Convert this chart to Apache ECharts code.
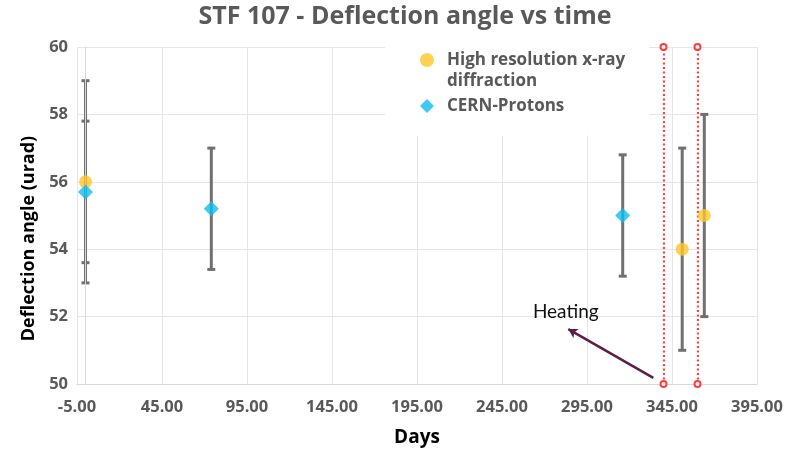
<!DOCTYPE html>
<html>
<head>
<meta charset="utf-8">
<script src="https://cdn.jsdelivr.net/npm/echarts@6/dist/echarts.min.js"></script>
<style>html,body{margin:0;padding:0;background:#fff;}#c{width:789px;height:452px;}</style>
</head>
<body>
<div id="c"></div>
<script>
// ---- data ----
const titleText = 'STF 107 - Deflection angle vs time';
const xTickValues = [-5, 45, 95, 145, 195, 245, 295, 345, 395];
const yTickValues = [50, 52, 54, 56, 58, 60];
const xrayName = 'High resolution x-ray diffraction';
const xrayDays = [0, 351, 364];
const xrayAngle = [56, 54, 55];
const xrayErrLow = [53, 51, 52];
const xrayErrHigh = [59, 57, 58];
const protonName = 'CERN-Protons';
const protonDays = [0, 74, 316];
const protonAngle = [55.7, 55.2, 55.0];
const protonErrLow = [53.6, 53.4, 53.2];
const protonErrHigh = [57.8, 57.0, 56.8];
const heatingDays = [340, 360];
const heatingLabel = 'Heating';
const heatingArrowFrom = [334, 50.18];
const heatingArrowTo = [284, 51.63];
const heatingTextAt = [282.5, 52.15];

const FONT = '"Open Sans", Lato, sans-serif';
const chart = echarts.init(document.getElementById('c'));

function errData(days, lo, hi) { return days.map((d, i) => [d, lo[i], hi[i]]); }
function errRender(params, api) {
  const x = api.value(0);
  const a = api.coord([x, api.value(1)]);
  const b = api.coord([x, api.value(2)]);
  const style = { stroke: '#707070', lineWidth: 3 };
  return {
    type: 'group',
    children: [
      { type: 'line', shape: { x1: a[0], y1: a[1], x2: b[0], y2: b[1] }, style },
      { type: 'line', shape: { x1: a[0] - 4, y1: a[1], x2: a[0] + 4, y2: a[1] }, style },
      { type: 'line', shape: { x1: b[0] - 4, y1: b[1], x2: b[0] + 4, y2: b[1] }, style }
    ]
  };
}

chart.setOption({
  animation: false,
  backgroundColor: '#fff',
  graphic: [{
    type: 'text', x: 405, y: 17, z: 10,
    style: { text: titleText, textAlign: 'center', textVerticalAlign: 'middle',
      fontFamily: FONT, fontWeight: 'bold', fontSize: 25, fill: '#595959' }
  }],
  legend: {
    orient: 'vertical',
    left: 385, top: 8,
    padding: [20.5, 24, 19, 35],
    backgroundColor: '#fff',
    itemWidth: 14, itemHeight: 14, itemGap: 4,
    data: [xrayName, protonName],
    formatter: n => n === xrayName ? '\nHigh resolution x-ray\ndiffraction' : n,
    textStyle: { fontFamily: FONT, fontWeight: 'bold', fontSize: 17, color: '#595959', lineHeight: 21,
      padding: [0, 0, 0, 8] }
  },
  grid: { left: 77, right: 32, top: 47, bottom: 68 },
  xAxis: {
    type: 'value', min: -5, max: 395,
    name: 'Days', nameLocation: 'middle', nameGap: 44,
    nameTextStyle: { fontFamily: FONT, fontWeight: 'bold', fontSize: 19, color: '#000' },
    axisLine: { show: true, lineStyle: { color: '#d9d9d9', width: 1 } },
    axisTick: { show: false, customValues: xTickValues },
    axisLabel: { customValues: xTickValues, formatter: v => v.toFixed(2), margin: 15,
      fontFamily: FONT, fontWeight: 'bold', fontSize: 16.5, color: '#595959' },
    splitLine: { show: true, lineStyle: { color: '#e6e6e6', width: 1 } }
  },
  yAxis: {
    type: 'value', min: 50, max: 60, interval: 2,
    name: 'Deflection angle (urad)', nameLocation: 'middle', nameGap: 30,
    nameTextStyle: { fontFamily: FONT, fontWeight: 'bold', fontSize: 18, color: '#000',
      padding: [0, 46, 0, 0] },
    axisLine: { show: true, lineStyle: { color: '#d9d9d9', width: 1 } },
    axisTick: { show: false },
    axisLabel: { margin: 9, fontFamily: FONT, fontWeight: 'bold', fontSize: 16.5, color: '#595959',
      formatter: v => yTickValues.includes(v) ? String(v) : '' },
    splitLine: { show: true, lineStyle: { color: '#e6e6e6', width: 1 } }
  },
  series: [
    {
      type: 'custom', name: 'xray-err', renderItem: errRender, z: 2,
      data: errData(xrayDays, xrayErrLow, xrayErrHigh), encode: { x: 0, y: [1, 2] },
      markLine: {
        silent: true, symbol: 'none', label: { show: false },
        lineStyle: { color: '#d9d9d9', type: 'solid', width: 1 },
        data: [{ xAxis: 0 }]
      }
    },
    {
      type: 'custom', name: 'proton-err', renderItem: errRender, z: 2,
      data: errData(protonDays, protonErrLow, protonErrHigh), encode: { x: 0, y: [1, 2] }
    },
    {
      type: 'scatter', name: xrayName, symbol: 'circle', symbolSize: 13, z: 5,
      itemStyle: { color: '#FFC52B' },
      data: xrayDays.map((d, i) => [d, xrayAngle[i]]),
      markLine: {
        silent: true, symbol: ['emptyCircle', 'emptyCircle'], symbolSize: 6,
        label: { show: false },
        lineStyle: { color: '#FF2A2A', type: [2, 2.5], width: 2.2, opacity: 0.9 },
        data: heatingDays.map(d => [{ coord: [d, 50] }, { coord: [d, 60] }])
      }
    },
    {
      type: 'scatter', name: protonName, symbol: 'diamond', symbolSize: 15, z: 5,
      itemStyle: { color: '#0EBDEF' },
      data: protonDays.map((d, i) => [d, protonAngle[i]]),
      markLine: {
        silent: true, symbol: ['none', 'arrow'], symbolSize: [8, 9],
        label: { show: false },
        lineStyle: { color: '#5B1E47', type: 'solid', width: 2.5 },
        data: [[{ coord: heatingArrowFrom }, { coord: heatingArrowTo }]]
      },
      markPoint: {
        silent: true, symbol: 'rect', symbolSize: 1,
        itemStyle: { color: 'rgba(0,0,0,0)' },
        label: { show: true, position: 'inside', formatter: heatingLabel,
          fontFamily: 'Lato, sans-serif', fontSize: 19, color: '#111' },
        data: [{ coord: heatingTextAt }]
      }
    }
  ]
});
</script>
</body>
</html>
